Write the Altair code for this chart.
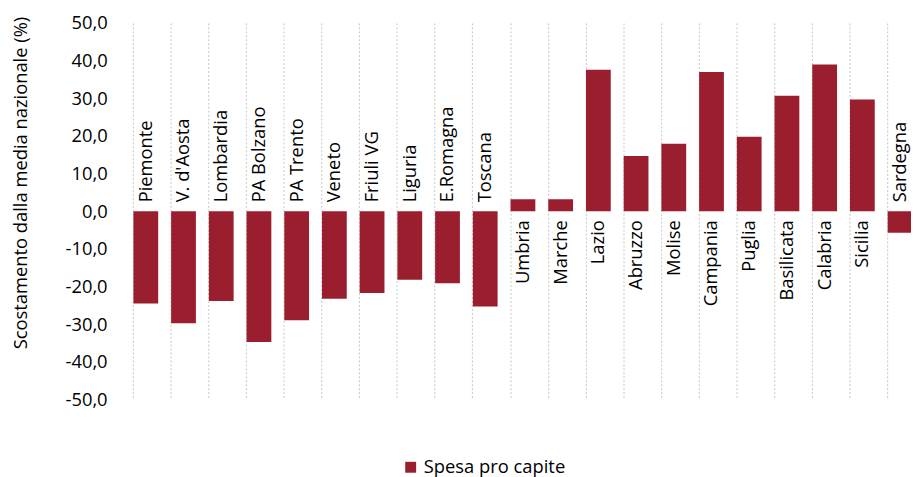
import altair as alt
import pandas as pd

regions = ["Piemonte", "V. d'Aosta", "Lombardia", "PA Bolzano", "PA Trento", "Veneto",
           "Friuli VG", "Liguria", "E.Romagna", "Toscana", "Umbria", "Marche", "Lazio",
           "Abruzzo", "Molise", "Campania", "Puglia", "Basilicata", "Calabria", "Sicilia",
           "Sardegna"]
values = [-24.5, -29.7, -23.8, -34.7, -28.9, -23.2, -21.7, -18.2, -19.1, -25.3,
          3.2, 3.2, 37.6, 14.7, 17.9, 37.0, 19.8, 30.7, 39.0, 29.7, -5.7]
series_name = "Spesa pro capite"
y_ticks = [-50, -40, -30, -20, -10, 0, 10, 20, 30, 40, 50]

df = pd.DataFrame({"region": regions, "value": values, "series": series_name})

FONT = "Open Sans"
FS = 18.5
BAR = "#9B1E2F"

x_enc = alt.X("region:N", sort=regions,
              scale=alt.Scale(range=[0, 799], paddingInner=0.343, paddingOuter=0.1715),
              axis=alt.Axis(labels=False, ticks=False, domain=False, title=None,
                            grid=True, bandPosition=0, gridColor="#C4C4C4",
                            gridDash=[2, 2], gridWidth=1))
y_scale = alt.Scale(domain=[-50, 50], nice=False, zero=False)

bars = alt.Chart(df).mark_bar(clip=True, color=BAR).encode(
    x=x_enc,
    y=alt.Y("value:Q", scale=y_scale,
            axis=alt.Axis(values=y_ticks, tickCount=len(y_ticks), grid=False, domain=False,
                          ticks=False, tickSize=0,
                          labelOverlap=False, labelBound=False, labelSeparation=0,
                          labelPadding=20, labelFontSize=FS, labelFont=FONT, labelColor="#000000",
                          labelExpr="(datum.value < 0 ? '-' : '') + replace(format(abs(datum.value), '.1f'), '.', ',')",
                          title="Scostamento dalla media nazionale (%)",
                          titleFont=FONT, titleFontSize=FS, titleFontWeight="normal",
                          titleColor="#000000", titleAngle=270, titleX=-107, titleY=161,
                          titleAlign="center", titleBaseline="middle")),
    color=alt.Color("series:N", scale=alt.Scale(range=[BAR]),
                    legend=alt.Legend(title=None, orient="none", legendX=277, legendY=439,
                                      symbolType="square", symbolSize=121,
                                      symbolStrokeWidth=0, labelFont=FONT, labelFontSize=FS,
                                      labelColor="#000000", labelOffset=4, labelLimit=400)),
    y2=alt.datum(0),
)

neg_labels = alt.Chart(df).transform_filter("datum.value < 0").mark_text(
    angle=270, align="left", baseline="middle", dx=9, font=FONT, fontSize=FS, color="#000000"
).encode(x=alt.X("region:N", sort=regions), y=alt.datum(0), text="region:N")

pos_labels = alt.Chart(df).transform_filter("datum.value >= 0").mark_text(
    angle=270, align="right", baseline="middle", dx=-9, font=FONT, fontSize=FS, color="#000000"
).encode(x=alt.X("region:N", sort=regions), y=alt.datum(0), text="region:N")

chart = alt.layer(bars, neg_labels, pos_labels).properties(
    width=791, height=380,
    background="#FFFFFF",
    autosize=alt.AutoSizeParams(type="none"),
    padding={"left": 120, "top": 13, "right": 0, "bottom": 76},
).configure_view(stroke=None).configure_axisY(labelOverlap=False, labelSeparation=0)

chart.save("out.html", embed_options={"renderer": "svg", "actions": False})
